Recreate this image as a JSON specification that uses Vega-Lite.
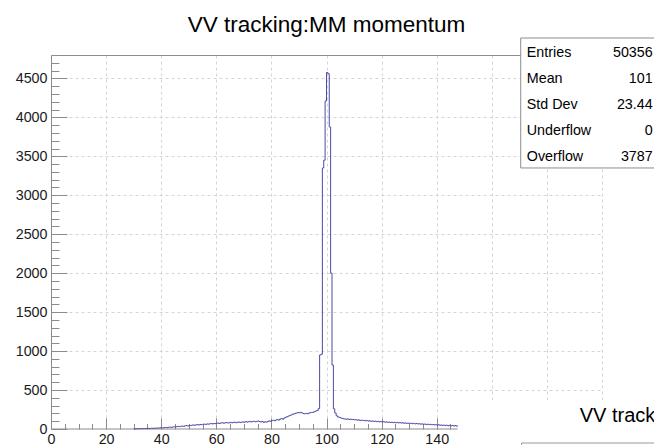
{
  "$schema": "https://vega.github.io/schema/vega-lite/v6.json",
  "autosize": "none",
  "width": 551,
  "height": 374,
  "padding": {"left": 51, "top": 55, "right": 52, "bottom": 16},
  "background": "#ffffff",
  "title": {"text": "VV tracking:MM momentum", "font": "Liberation Sans", "fontSize": 22.5, "fontWeight": "normal", "color": "#000000", "anchor": "middle", "frame": "group", "baseline": "alphabetic", "offset": -17},
  "config": {
    "view": {"stroke": null},
    "axis": {"labelFont": "Liberation Sans", "labelFontSize": 14.3, "labelColor": "#1a1a1a", "tickColor": "#8c8c8c", "domainColor": "#8c8c8c", "title": null, "grid": false, "labelOverlap": false, "labelFlush": false, "tickWidth": 1, "domainWidth": 1}
  },
  "datasets": {
    "hist": [
      {"x":30,"n":0},{"x":30.5,"n":2},{"x":31,"n":3},{"x":31.5,"n":2},{"x":32,"n":4},{"x":32.5,"n":5},{"x":33,"n":4},{"x":33.5,"n":6},{"x":34,"n":5},{"x":34.5,"n":7},
      {"x":35,"n":8},{"x":35.5,"n":6},{"x":36,"n":9},{"x":36.5,"n":10},{"x":37,"n":8},{"x":37.5,"n":12},{"x":38,"n":11},{"x":38.5,"n":13},{"x":39,"n":12},{"x":39.5,"n":15},
      {"x":40,"n":16},{"x":40.5,"n":14},{"x":41,"n":18},{"x":41.5,"n":20},{"x":42,"n":17},{"x":42.5,"n":22},{"x":43,"n":24},{"x":43.5,"n":21},{"x":44,"n":26},{"x":44.5,"n":28},
      {"x":45,"n":25},{"x":45.5,"n":31},{"x":46,"n":33},{"x":46.5,"n":30},{"x":47,"n":36},{"x":47.5,"n":38},{"x":48,"n":34},{"x":48.5,"n":41},{"x":49,"n":43},{"x":49.5,"n":39},
      {"x":50,"n":46},{"x":50.5,"n":44},{"x":51,"n":49},{"x":51.5,"n":52},{"x":52,"n":47},{"x":52.5,"n":54},{"x":53,"n":56},{"x":53.5,"n":51},{"x":54,"n":58},{"x":54.5,"n":55},
      {"x":55,"n":61},{"x":55.5,"n":63},{"x":56,"n":58},{"x":56.5,"n":65},{"x":57,"n":62},{"x":57.5,"n":67},{"x":58,"n":70},{"x":58.5,"n":64},{"x":59,"n":71},{"x":59.5,"n":68},
      {"x":60,"n":73},{"x":60.5,"n":76},{"x":61,"n":70},{"x":61.5,"n":78},{"x":62,"n":81},{"x":62.5,"n":74},{"x":63,"n":79},{"x":63.5,"n":83},{"x":64,"n":77},{"x":64.5,"n":80},
      {"x":65,"n":85},{"x":65.5,"n":79},{"x":66,"n":84},{"x":66.5,"n":88},{"x":67,"n":81},{"x":67.5,"n":86},{"x":68,"n":90},{"x":68.5,"n":84},{"x":69,"n":87},{"x":69.5,"n":92},
      {"x":70,"n":86},{"x":70.5,"n":95},{"x":71,"n":89},{"x":71.5,"n":93},{"x":72,"n":98},{"x":72.5,"n":90},{"x":73,"n":96},{"x":73.5,"n":100},{"x":74,"n":92},{"x":74.5,"n":97},
      {"x":75,"n":103},{"x":75.5,"n":95},{"x":76,"n":90},{"x":76.5,"n":98},{"x":77,"n":85},{"x":77.5,"n":93},{"x":78,"n":88},{"x":78.5,"n":97},{"x":79,"n":104},{"x":79.5,"n":99},
      {"x":80,"n":108},{"x":80.5,"n":112},{"x":81,"n":105},{"x":81.5,"n":116},{"x":82,"n":121},{"x":82.5,"n":114},{"x":83,"n":127},{"x":83.5,"n":133},{"x":84,"n":126},{"x":84.5,"n":141},
      {"x":85,"n":150},{"x":85.5,"n":158},{"x":86,"n":166},{"x":86.5,"n":172},{"x":87,"n":180},{"x":87.5,"n":188},{"x":88,"n":194},{"x":88.5,"n":201},{"x":89,"n":206},{"x":89.5,"n":211},
      {"x":90,"n":207},{"x":90.5,"n":214},{"x":91,"n":205},{"x":91.5,"n":198},{"x":92,"n":195},{"x":92.5,"n":200},{"x":93,"n":196},{"x":93.5,"n":205},{"x":94,"n":210},{"x":94.5,"n":212},
      {"x":95,"n":215},{"x":95.5,"n":224},{"x":96,"n":232},{"x":96.5,"n":238},{"x":97,"n":262},{"x":97.5,"n":950},{"x":98,"n":960},{"x":98.5,"n":3350},{"x":99,"n":3450},{"x":99.5,"n":4210},
      {"x":100,"n":4575},{"x":100.5,"n":4560},{"x":101,"n":3876},{"x":101.5,"n":2000},{"x":102,"n":821},{"x":102.5,"n":260},{"x":103,"n":205},{"x":103.5,"n":170},{"x":104,"n":155},{"x":104.5,"n":150},
      {"x":105,"n":142},{"x":105.5,"n":136},{"x":106,"n":131},{"x":106.5,"n":128},{"x":107,"n":125},{"x":107.5,"n":130},{"x":108,"n":122},{"x":108.5,"n":127},{"x":109,"n":120},{"x":109.5,"n":124},
      {"x":110,"n":118},{"x":110.5,"n":121},{"x":111,"n":113},{"x":111.5,"n":117},{"x":112,"n":110},{"x":112.5,"n":114},{"x":113,"n":108},{"x":113.5,"n":111},{"x":114,"n":104},{"x":114.5,"n":109},
      {"x":115,"n":102},{"x":115.5,"n":106},{"x":116,"n":99},{"x":116.5,"n":103},{"x":117,"n":97},{"x":117.5,"n":101},{"x":118,"n":94},{"x":118.5,"n":99},{"x":119,"n":92},{"x":119.5,"n":96},
      {"x":120,"n":90},{"x":120.5,"n":94},{"x":121,"n":88},{"x":121.5,"n":91},{"x":122,"n":86},{"x":122.5,"n":90},{"x":123,"n":84},{"x":123.5,"n":88},{"x":124,"n":82},{"x":124.5,"n":86},
      {"x":125,"n":80},{"x":125.5,"n":84},{"x":126,"n":78},{"x":126.5,"n":82},{"x":127,"n":76},{"x":127.5,"n":80},{"x":128,"n":74},{"x":128.5,"n":78},{"x":129,"n":72},{"x":129.5,"n":76},
      {"x":130,"n":70},{"x":130.5,"n":74},{"x":131,"n":68},{"x":131.5,"n":72},{"x":132,"n":66},{"x":132.5,"n":70},{"x":133,"n":64},{"x":133.5,"n":68},{"x":134,"n":62},{"x":134.5,"n":66},
      {"x":135,"n":60},{"x":135.5,"n":64},{"x":136,"n":58},{"x":136.5,"n":62},{"x":137,"n":56},{"x":137.5,"n":60},{"x":138,"n":54},{"x":138.5,"n":58},{"x":139,"n":52},{"x":139.5,"n":56},
      {"x":140,"n":50},{"x":140.5,"n":54},{"x":141,"n":48},{"x":141.5,"n":52},{"x":142,"n":46},{"x":142.5,"n":50},{"x":143,"n":44},{"x":143.5,"n":49},{"x":144,"n":42},{"x":144.5,"n":47},
      {"x":145,"n":40},{"x":145.5,"n":46},{"x":146,"n":38},{"x":146.5,"n":44},{"x":147,"n":37},{"x":147.5,"n":42},{"x":148,"n":42}
    ],
    "stats": [
      {"label": "Entries", "value": "50356"},
      {"label": "Mean", "value": "101"},
      {"label": "Std Dev", "value": "23.44"},
      {"label": "Underflow", "value": "0"},
      {"label": "Overflow", "value": "3787"}
    ]
  },
  "layer": [
    {
      "data": {"name": "hist"},
      "layer": [
        {
          "mark": {"type": "point", "opacity": 0},
          "encoding": {
            "x": {"field": "x", "type": "quantitative", "scale": {"domain": [0, 200], "nice": false, "zero": false},
                  "axis": {"orient": "bottom", "values": [20,40,60,80,100,120,140,160,180,200], "grid": true, "gridColor": "#d4d4d4", "gridDash": [3,3], "ticks": false, "labels": false, "domain": false}},
            "y": {"field": "n", "type": "quantitative", "scale": {"domain": [0, 4800], "nice": false},
                  "axis": {"orient": "left", "values": [500,1000,1500,2000,2500,3000,3500,4000,4500], "grid": true, "gridColor": "#d4d4d4", "gridDash": [3,3], "ticks": false, "labels": false, "domain": false}}
          }
        },
        {
          "mark": {"type": "point", "opacity": 0},
          "encoding": {
            "x": {"field": "x", "type": "quantitative",
                  "axis": {"orient": "bottom", "values": [5,10,15,25,30,35,45,50,55,65,70,75,85,90,95,105,110,115,125,130,135,145], "tickSize": -5.5, "labels": false, "domain": false}},
            "y": {"field": "n", "type": "quantitative",
                  "axis": {"orient": "left", "values": [100,200,300,400,600,700,800,900,1100,1200,1300,1400,1600,1700,1800,1900,2100,2200,2300,2400,2600,2700,2800,2900,3100,3200,3300,3400,3600,3700,3800,3900,4100,4200,4300,4400,4600,4700], "tickSize": -8, "labels": false, "domain": false}}
          }
        },
        {
          "mark": {"type": "point", "opacity": 0},
          "encoding": {
            "x": {"field": "x", "type": "quantitative",
                  "axis": {"orient": "top", "ticks": false, "labels": false, "domain": true}},
            "y": {"field": "n", "type": "quantitative", "axis": null}
          }
        },
        {
          "data": {"values": [{}]},
          "mark": {"type": "rule", "color": "#8c8c8c", "strokeWidth": 1},
          "encoding": {
            "x": {"datum": 0, "type": "quantitative", "axis": null},
            "x2": {"datum": 147.6},
            "y": {"datum": 0, "type": "quantitative", "axis": null}
          }
        },
        {
          "mark": {"type": "line", "interpolate": "step-after", "color": "#4b4ba8", "strokeWidth": 1},
          "encoding": {
            "x": {"field": "x", "type": "quantitative",
                  "axis": {"orient": "bottom", "values": [0,20,40,60,80,100,120,140], "tickSize": -11, "labelPadding": 14.5, "domain": false, "format": "d"}},
            "y": {"field": "n", "type": "quantitative",
                  "axis": {"orient": "left", "values": [0,500,1000,1500,2000,2500,3000,3500,4000,4500], "tickSize": -16, "labelPadding": 20, "domain": true, "format": "d"}}
          }
        },
        {
          "data": {"values": [{}]},
          "mark": {"type": "rect", "fill": "#ffffff", "clip": false},
          "encoding": {
            "x": {"datum": 147.7, "type": "quantitative", "axis": null},
            "x2": {"datum": 240},
            "y": {"datum": 372, "type": "quantitative", "axis": null},
            "y2": {"datum": -1500}
          }
        },
        {
          "data": {"values": [{}]},
          "mark": {"type": "rect", "fill": "#ffffff", "stroke": "#9a9a9a", "strokeWidth": 1, "clip": false},
          "encoding": {
            "x": {"datum": 170.8, "type": "quantitative", "axis": null},
            "x2": {"datum": 240},
            "y": {"datum": -180, "type": "quantitative", "axis": null},
            "y2": {"datum": -1500}
          }
        },
        {
          "data": {"values": [{}]},
          "mark": {"type": "text", "text": "VV tracking:MM momentum", "font": "Liberation Sans", "fontSize": 20, "align": "left", "baseline": "alphabetic", "color": "#000000", "clip": false},
          "encoding": {
            "x": {"datum": 191.9, "type": "quantitative", "axis": null},
            "y": {"datum": 90, "type": "quantitative", "axis": null}
          }
        },
        {
          "data": {"values": [{}]},
          "mark": {"type": "rect", "fill": "#ffffff", "stroke": "#8c8c8c", "strokeWidth": 1, "clip": false},
          "encoding": {
            "x": {"datum": 170.5, "type": "quantitative", "axis": null},
            "x2": {"datum": 240},
            "y": {"datum": 3350, "type": "quantitative", "axis": null},
            "y2": {"datum": 5018}
          }
        }
      ],
      "resolve": {"axis": {"x": "independent", "y": "independent"}}
    },
    {
      "data": {"name": "stats"},
      "layer": [
        {
          "mark": {"type": "text", "font": "Liberation Sans", "fontSize": 14.3, "align": "left", "baseline": "middle", "color": "#000000", "clip": false},
          "encoding": {
            "x": {"datum": 172.7, "type": "quantitative", "axis": null},
            "y": {"field": "label", "type": "nominal", "scale": {"type": "point", "domain": ["Entries","Mean","Std Dev","Underflow","Overflow"], "range": [-2, 102], "padding": 0}, "axis": null},
            "text": {"field": "label"}
          }
        },
        {
          "mark": {"type": "text", "font": "Liberation Sans", "fontSize": 14.3, "align": "right", "baseline": "middle", "color": "#000000", "clip": false},
          "encoding": {
            "x": {"datum": 218.4, "type": "quantitative", "axis": null},
            "y": {"field": "label", "type": "nominal", "axis": null},
            "text": {"field": "value"}
          }
        }
      ]
    }
  ],
  "resolve": {"scale": {"y": "independent"}}
}
